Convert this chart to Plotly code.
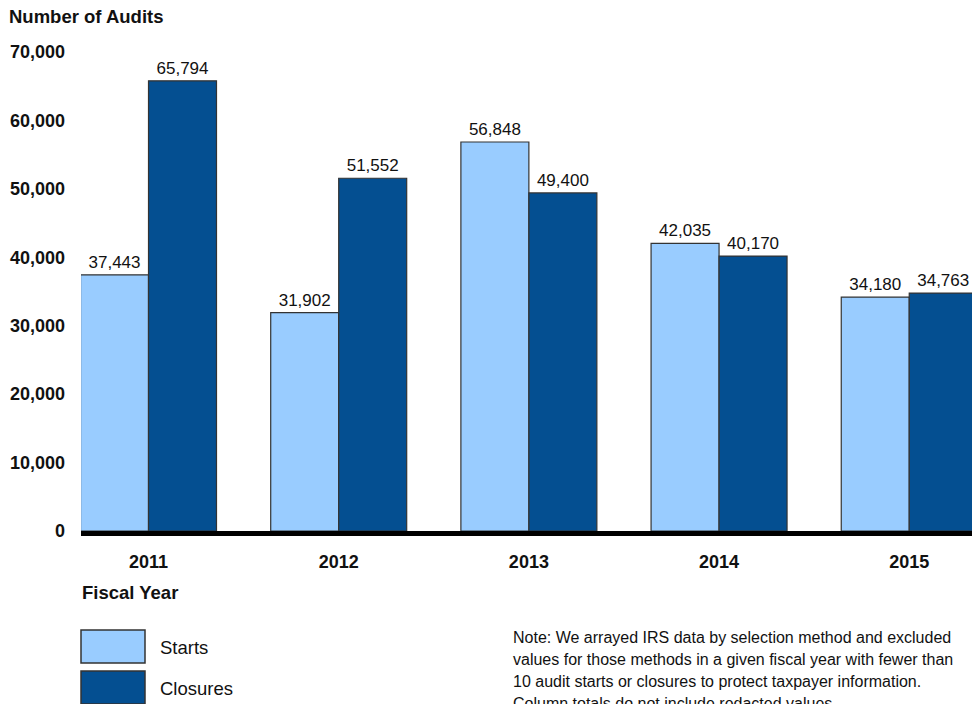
import plotly.graph_objects as go

years = ["2011", "2012", "2013", "2014", "2015"]
starts = [37443, 31902, 56848, 42035, 34180]
closures = [65794, 51552, 49400, 40170, 34763]
y_ticks = [0, 10000, 20000, 30000, 40000, 50000, 60000, 70000]
note_lines = [
    "Note: We arrayed IRS data by selection method and excluded",
    "values for those methods in a given fiscal year with fewer than",
    "10 audit starts or closures to protect taxpayer information.",
    "Column totals do not include redacted values.",
]

W, H = 972, 704
ML, MR, MT, MB = 81, 0, 52, 173
PW, PH = W - ML - MR, H - MT - MB

LIGHT = "#99CCFF"
DARK = "#044F91"
EDGE = "#333333"
FONT = "Liberation Sans, Arial, sans-serif"


def px_x(p):
    return (p - ML) / PW


def px_y(p):
    return (H - MB - p) / PH


xpos = list(range(len(years)))

fig = go.Figure()
fig.add_bar(x=xpos, y=starts, name="Starts", marker=dict(color=LIGHT, line=dict(color=EDGE, width=1.2)),
            text=[f"{v:,}" for v in starts], textposition="outside",
            textfont=dict(size=17, color="#111111", family=FONT), cliponaxis=True)
fig.add_bar(x=xpos, y=closures, name="Closures", marker=dict(color=DARK, line=dict(color=EDGE, width=1.2)),
            text=[f"{v:,}" for v in closures], textposition="outside",
            textfont=dict(size=17, color="#111111", family=FONT), cliponaxis=True)

fig.update_layout(
    width=W, height=H,
    margin=dict(l=ML, r=MR, t=MT, b=MB, pad=0),
    paper_bgcolor="white", plot_bgcolor="white",
    barmode="group", bargap=0.285, bargroupgap=0,
    showlegend=False,
    font=dict(family=FONT, color="#111111"),
)
fig.update_xaxes(
    range=[-0.355, 4.33], tickmode="array", tickvals=xpos, ticktext=years,
    tickfont=dict(size=18, family=FONT, color="#111111", weight="bold"),
    showline=True, linecolor="black", linewidth=5, showgrid=False, ticks="",
    ticklabelstandoff=10, zeroline=False,
)
fig.update_yaxes(
    range=[0, 70000], tickmode="array", tickvals=y_ticks,
    ticktext=[f"{v:,}" for v in y_ticks],
    tickfont=dict(size=18, family=FONT, color="#111111", weight="bold"),
    showgrid=False, zeroline=False, showline=False, ticks="", ticklabelstandoff=15,
)

anns = []
anns.append(dict(text="<b>Number of Audits</b>", xref="paper", yref="paper", x=px_x(7), y=px_y(17),
                 xanchor="left", yanchor="middle", showarrow=False, font=dict(size=18.5, family=FONT)))
anns.append(dict(text="<b>Fiscal Year</b>", xref="paper", yref="paper", x=px_x(80), y=px_y(592),
                 xanchor="left", yanchor="middle", showarrow=False, font=dict(size=18.5, family=FONT)))
anns.append(dict(text="Starts", xref="paper", yref="paper", x=px_x(158), y=px_y(647),
                 xanchor="left", yanchor="middle", showarrow=False, font=dict(size=18.5, family=FONT)))
anns.append(dict(text="Closures", xref="paper", yref="paper", x=px_x(158), y=px_y(688),
                 xanchor="left", yanchor="middle", showarrow=False, font=dict(size=18.5, family=FONT)))
for i, line in enumerate(note_lines):
    anns.append(dict(text=line, xref="paper", yref="paper", x=px_x(511), y=px_y(637 + 22.3 * i),
                     xanchor="left", yanchor="middle", align="left", showarrow=False,
                     font=dict(size=16, family=FONT)))
fig.update_layout(annotations=anns)

shapes = []
for (top, bot, col) in [(630, 663, LIGHT), (671, 704, DARK)]:
    shapes.append(dict(type="rect", xref="paper", yref="paper", x0=px_x(81), x1=px_x(145),
                       y0=px_y(bot), y1=px_y(top), fillcolor=col, line=dict(color=EDGE, width=1.5)))
fig.update_layout(shapes=shapes)

fig.write_html("out.html")
